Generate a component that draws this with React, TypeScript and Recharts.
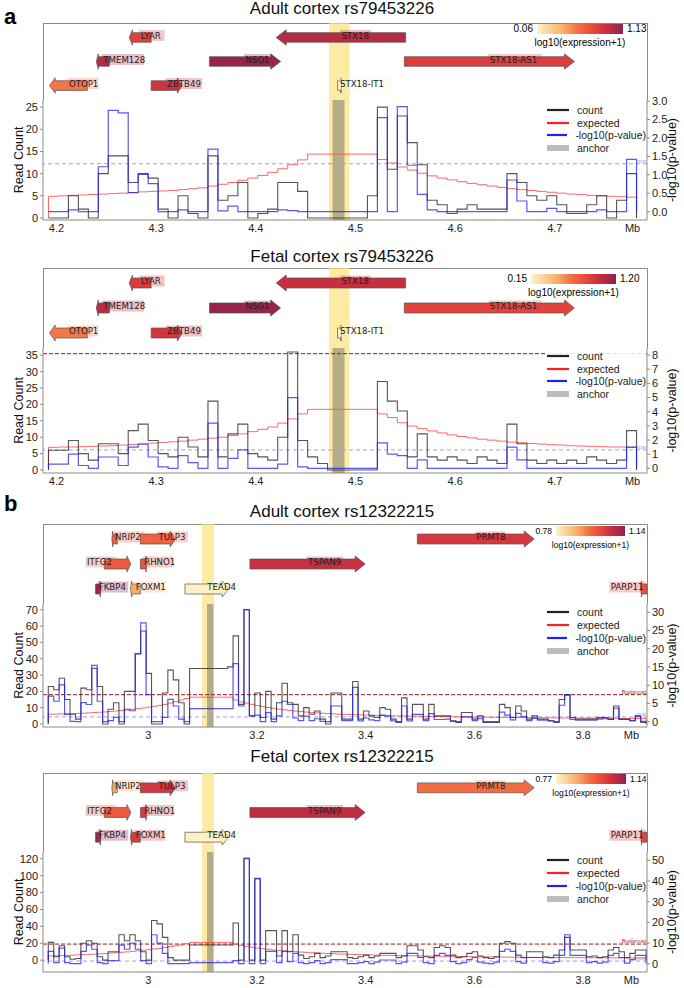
import { ComposedChart, Line, XAxis, YAxis, ReferenceArea, ReferenceLine, Legend } from 'recharts'

const SANS = '"Liberation Sans", Arial, Helvetica, sans-serif'
const DEJAVU = '"DejaVu Sans", sans-serif'

// expression colour scale (pale yellow -> orange -> red -> maroon)
const CMAP_STOPS = [0, 0.3, 0.48, 0.65, 0.8, 0.92, 1]
const CMAP_COLORS = ['#fdf4c8', '#f8af69', '#f36d43', '#e8473c', '#c8303f', '#a8264a', '#8c234e']

// ---- locus rs79453226 ----
const geneNamesA = ['LYAR', 'STX18', 'TMEM128', 'NSG1', 'STX18-AS1', 'OTOP1', 'ZBTB49', 'STX18-IT1']
const geneStartA = [4.273, 4.4205, 4.24, 4.3536, 4.549, 4.193, 4.295, 4.482]
const geneEndA = [4.295, 4.5503, 4.253, 4.4249, 4.7197, 4.231, 4.326, 4.486]
const geneRowA = [0, 0, 1, 1, 1, 2, 2, 2]
const geneStrandA = [-1, -1, -1, 1, 1, -1, 1, 1]
const labelModeA = [1, 1, 1, 1, 1, 1, 1, 1]
const exprAdultA = [0.8, 0.98, 0.98, 1.1, 0.82, 0.55, 0.88, 0.08]
const exprFetalA = [0.91, 0.99, 1.04, 1.17, 0.86, 0.62, 0.94, 0.17]

const adultACount = [
  0, 0, 5, 2, 0, 10, 14, 14, 8, 10, 9, 2, 0, 5, 1, 0, 14, 4, 5, 8,
  0, 1, 2, 8, 8, 6, 0, 0, 0, 0, 0, 0, 5, 25, 11, 23, 17, 12, 4, 3,
  1, 2, 3, 2, 2, 2, 10, 8, 5, 4, 5, 3, 1, 1, 3, 5, 0, 4, 10,
]
const adultAExpected = [
  4.9, 5.0, 5.1, 5.2, 5.3, 5.4, 5.5, 5.6, 5.75, 5.9, 6.0, 6.1, 6.2, 6.4, 6.6, 6.8, 7.2, 7.6, 8.0, 8.5,
  9.0, 9.6, 10.3, 11.1, 12.0, 13.1, 14.4, 14.4, 14.4, 14.4, 14.4, 14.4, 14.4, 13.2, 12.4, 11.5, 10.8, 10.1, 9.5, 9.0,
  8.6, 8.2, 7.8, 7.5, 7.2, 6.9, 6.6, 6.4, 6.2, 6.0, 5.8, 5.6, 5.4, 5.3, 5.1, 5.0, 4.9, 4.8, 4.7,
]
const adultAPval = [
  0, 0, 0.05, 0, 0, 1.22, 2.75, 2.68, 0.52, 1.01, 0.76, 0, 0, 0.05, 0, 0, 1.7, 0.02, 0.15, 0,
  0, 0, 0, 0.05, 0.03, 0, 0, 0, 0, 0, 0, 0, 0, 2.55, 0, 2.85, 1.26, 0.47, 0.05, 0,
  0, 0, 0, 0, 0, 0, 0.86, 0.29, 0, 0, 0.09, 0, 0, 0, 0, 0.05, 0, 0, 1.42,
]

const fetalACount = [
  6, 6, 9, 5, 3, 8, 8, 5, 12, 14, 9, 5, 4, 10, 7, 4, 21, 4, 11, 14,
  5, 4, 3, 10, 36, 9, 4, 2, 0, 0, 0, 0, 0, 27, 21, 18, 4, 11, 4, 3,
  4, 3, 2, 4, 3, 2, 14, 8, 3, 2, 3, 2, 3, 2, 4, 3, 2, 3, 12,
]
const fetalAExpected = [
  6.9, 7.0, 7.0, 7.1, 7.2, 7.3, 7.4, 7.6, 7.8, 8.0, 8.2, 8.4, 8.6, 8.8, 9.1, 9.4, 9.7, 10.0, 10.5, 11.0,
  11.7, 12.4, 13.1, 14.3, 15.6, 17.1, 18.5, 18.5, 18.5, 18.5, 18.5, 18.5, 18.5, 17.1, 16.0, 14.4, 13.4, 12.6, 11.9, 11.3,
  10.7, 10.2, 9.8, 9.4, 9.1, 8.8, 8.5, 8.3, 8.1, 7.9, 7.7, 7.6, 7.4, 7.3, 7.2, 7.1, 7.0, 7.0, 6.9,
]
const fetalAPval = [
  0.3, 0.3, 1.0, 0.2, 0, 0.8, 0.8, 0.2, 1.5, 1.7, 0.8, 0.1, 0, 0.9, 0.4, 0, 3.2, 0, 0.7, 1.3,
  0, 0, 0, 0.3, 5.0, 0.1, 0, 0, 0, 0, 0, 0, 0, 1.8, 1.0, 0.9, 0, 0.6, 0, 0,
  0, 0, 0, 0, 0, 0, 1.5, 0.6, 0, 0, 0, 0, 0, 0, 0, 0, 0, 0, 1.5,
]

// ---- locus rs12322215 ----
const geneNamesB = ['NRIP2', 'TULP3', 'PRMT8', 'ITFG2', 'RHNO1', 'TSPAN9', 'FKBP4', 'FOXM1', 'TEAD4', 'PARP11']
const geneStartB = [2.933, 2.9855, 3.495, 2.919, 2.9855, 3.187, 2.903, 2.967, 3.0675, 3.906]
const geneEndB = [2.943, 3.05, 3.71, 2.968, 2.9976, 3.399, 2.913, 2.9855, 3.148, 3.9175]
const geneRowB = [0, 0, 0, 1, 1, 1, 2, 2, 2, 2]
const geneStrandB = [-1, 1, 1, 1, 1, 1, 1, -1, 1, -1]
const labelModeB = [1, 1, 1, -1, 1, 1, 1, 1, 1, -2]
const exprAdultB = [0.98, 0.97, 1.05, 0.985, 0.995, 1.07, 1.12, 0.89, 0.785, 1.0]
const exprFetalB = [0.89, 1.05, 0.95, 0.98, 1.04, 1.08, 1.12, 1.04, 0.775, 1.02]

const adultBCount = [
  23, 21, 28, 15, 6, 3, 22, 21, 36, 23, 0, 9, 13, 0, 20, 20, 43, 57, 31, 0,
  0, 19, 33, 27, 13, 0, 34, 34, 34, 34, 34, 34, 34, 35, 54, 12, 70, 5, 19, 4,
  20, 3, 13, 25, 13, 12, 5, 10, 6, 8, 3, 0, 19, 19, 3, 3, 26, 3, 8, 5,
  4, 10, 9, 3, 1, 16, 3, 12, 12, 3, 12, 5, 5, 5, 2, 1, 7, 7, 3, 5,
  1, 1, 1, 12, 10, 4, 11, 8, 3, 5, 3, 3, 2, 1, 15, 18, 4, 3, 3, 3,
  3, 4, 4, 3, 11, 3, 3, 2, 5, 1,
]
const adultBExpected = [
  6.0, 6.1, 6.2, 6.3, 6.4, 6.5, 6.6, 6.8, 7.0, 7.2, 7.4, 7.7, 8.0, 8.3, 8.6, 9.0, 9.4, 9.8, 10.3, 10.8,
  11.4, 12.0, 12.8, 13.7, 14.7, 15.6, 16.4, 16.4, 16.4, 16.4, 16.4, 16.4, 16.4, 16.4, 14.7, 13.6, 12.8, 12.0, 11.3, 10.7,
  10.1, 9.6, 9.1, 8.7, 8.3, 7.9, 7.6, 7.3, 7.0, 6.8, 6.6, 6.4, 6.2, 6.0, 5.9, 5.8, 5.7, 5.6, 5.5, 5.4,
  5.3, 5.2, 5.1, 5.0, 4.95, 4.9, 4.85, 4.8, 4.75, 4.7, 4.65, 4.6, 4.55, 4.5, 4.45, 4.4, 4.35, 4.3, 4.25, 4.2,
  4.2, 4.15, 4.1, 4.1, 4.05, 4.0, 4.0, 3.95, 3.9, 3.9, 3.85, 3.8, 3.8, 3.75, 3.7, 3.7, 3.7, 3.65, 3.6, 3.6,
  3.6, 3.55, 3.5, 3.5, 3.5, 3.45, 3.4, 3.4, 3.4, 3.35,
]
const adultBPval = [
  7.0, 5.6, 10.1, 2.0, 0.1, 0, 5.2, 4.7, 14.6, 5.6, 0, 0.3, 1.2, 0, 3.4, 3.0, 18.6, 27.1, 7.4, 0,
  0, 1.2, 6.1, 4.3, 0.7, 0, 3.6, 3.6, 3.6, 3.6, 3.6, 3.6, 3.6, 3.6, 15.9, 4.3, 30.7, 1.6, 1.8, 0,
  2.5, 0, 1.6, 5.6, 4.7, 1.0, 0.3, 1.5, 0.3, 0.8, 0.1, 0, 4.3, 4.3, 0.3, 0.3, 9.4, 0.2, 1.0, 0.5,
  0.3, 1.8, 1.5, 0.2, 0, 4.3, 0.2, 2.0, 2.0, 0.3, 2.2, 0.6, 0.6, 0.7, 0.1, 0, 1.3, 1.3, 0.3, 0.8,
  0, 0, 0, 2.6, 1.8, 0.5, 2.3, 1.4, 0.3, 0.9, 0.4, 0.4, 0.2, 0, 4.5, 7.3, 0.6, 0.4, 0.4, 0.4,
  0.4, 0.7, 0.8, 0.6, 3.7, 0.6, 0.6, 0.3, 1.5, 0.1,
]

const fetalBCount = [
  21, 4, 17, 4, 1, 2, 20, 23, 20, 4, 0, 10, 10, 30, 23, 30, 23, 10, 0, 47,
  43, 27, 3, 0, 0, 0, 18, 18, 18, 18, 18, 18, 18, 18, 44, 0, 120, 0, 97, 0,
  35, 35, 5, 35, 10, 30, 6, 2, 4, 8, 3, 5, 10, 10, 10, 3, 2, 4, 6, 3,
  5, 8, 8, 8, 3, 5, 17, 17, 12, 4, 3, 15, 17, 15, 6, 3, 4, 8, 10, 5,
  3, 2, 4, 20, 22, 20, 6, 3, 10, 10, 10, 4, 3, 6, 12, 27, 12, 12, 12, 4,
  5, 3, 4, 12, 15, 10, 3, 8, 12, 12,
]
const fetalBExpected = [
  5, 5.2, 5.4, 5.6, 5.9, 6.2, 6.5, 6.8, 7.1, 7.5, 7.9, 8.3, 8.8, 9.3, 9.8, 10.4, 11, 11.7, 12.4, 13.2,
  14, 15, 16, 17, 18, 19.5, 21, 21, 21, 21, 21, 21, 21, 21, 19, 17.5, 16.3, 15.2, 14.3, 13.5,
  12.8, 12.1, 11.5, 11, 10.5, 10, 9.6, 9.2, 8.8, 8.5, 8.2, 7.9, 7.6, 7.3, 7.1, 6.9, 6.7, 6.5, 6.3, 6.1,
  6, 5.8, 5.7, 5.5, 5.4, 5.3, 5.2, 5.1, 5, 4.9, 4.8, 4.7, 4.6, 4.5, 4.4, 4.3, 4.2, 4.1, 4, 3.9,
  3.9, 3.8, 3.7, 3.7, 3.6, 3.5, 3.5, 3.4, 3.4, 3.3, 3.3, 3.2, 3.2, 3.1, 3.1, 3, 3, 3, 2.9, 2.9,
  2.9, 2.8, 2.8, 2.8, 2.7, 2.7, 2.7, 2.6, 2.6, 2.6,
]
const fetalBPval = [
  6, 0.5, 7.5, 0.5, 0, 0, 6, 9, 7, 0.5, 0, 1.5, 1.5, 9, 7, 10, 7, 1.5, 0, 14,
  10, 5, 0, 0, 0, 0, 0.5, 0.5, 0.5, 0.5, 0.5, 0.5, 0.5, 0.5, 1.5, 0, 51, 0, 41, 0,
  6, 6, 0.5, 6, 1, 5, 0.5, 0, 0.5, 1.5, 0, 0.5, 2, 2, 2, 0, 0, 0.5, 1, 0,
  0.8, 1.8, 1.8, 1.8, 0, 0.8, 5, 5, 3, 0.5, 0, 4, 5, 4, 1, 0, 0.5, 2, 3, 0.8,
  0.3, 0, 0.8, 6, 7, 6, 1, 0.3, 3, 3, 3, 0.5, 0.3, 1, 4, 14, 4, 4, 4, 0.5,
  1, 0.3, 0.8, 4, 5, 3, 0.3, 2, 4, 4,
]

const ticksA = [4.2, 4.3, 4.4, 4.5, 4.6, 4.7, 4.778]
const ticksB = [3, 3.2, 3.4, 3.6, 3.8, 3.889]

const TOP_PAD = 8

function hexToRgb(h: string) {
  const n = parseInt(h.slice(1), 16)
  return [(n >> 16) & 255, (n >> 8) & 255, n & 255]
}

function cmap(t: number) {
  const v = Math.max(0, Math.min(1, t))
  let i = 0
  while (i < CMAP_STOPS.length - 2 && v > CMAP_STOPS[i + 1]) i++
  const f = (v - CMAP_STOPS[i]) / (CMAP_STOPS[i + 1] - CMAP_STOPS[i])
  const a = hexToRgb(CMAP_COLORS[i])
  const b = hexToRgb(CMAP_COLORS[i + 1])
  const c = a.map((x, k) => Math.round(x + (b[k] - x) * f))
  return `rgb(${c[0]},${c[1]},${c[2]})`
}

const gradient = `linear-gradient(to right, ${CMAP_STOPS.map((s, i) => `${CMAP_COLORS[i]} ${s * 100}%`).join(', ')})`

type Gene = { name: string; start: number; end: number; row: number; strand: number; mode: number; color: string }

function makeGenes(names: string[], starts: number[], ends: number[], rows: number[], strands: number[], modes: number[], expr: number[], range: number[]): Gene[] {
  return names.map((name, i) => ({
    name,
    start: starts[i],
    end: ends[i],
    row: rows[i],
    strand: strands[i],
    mode: modes[i],
    color: cmap((expr[i] - range[0]) / (range[1] - range[0])),
  }))
}

function geneShape(g: Gene) {
  return (props: any) => {
    const { x, y, width, height } = props
    const cy = y + height / 2
    const h = height / 2
    const H = h * 1.6
    const L = Math.min(10, width * 0.15)
    const x0 = x
    const x1 = x + width
    const pts =
      g.strand > 0
        ? [[x0, cy - h], [x1 - L, cy - h], [x1 - L, cy - H], [x1, cy], [x1 - L, cy + H], [x1 - L, cy + h], [x0, cy + h]]
        : [[x1, cy - h], [x0 + L, cy - h], [x0 + L, cy - H], [x0, cy], [x0 + L, cy + H], [x0 + L, cy + h], [x1, cy + h]]
    const tw = g.name.length * 5.6 + 3
    let lx = x + width / 2
    if (g.mode === -1) lx -= tw
    if (g.mode === -2) lx = x1 - tw
    return (
      <g>
        <polygon points={pts.map((p) => p.join(',')).join(' ')} fill={g.color} stroke="#555" strokeWidth={0.7} />
        <rect x={lx - 1} y={cy - 7.5} width={tw} height={11} fill={g.color} fillOpacity={0.3} />
        <text x={lx + 0.5} y={cy + 1.2} fontSize={8.6} fontFamily={DEJAVU} fill="#222">
          {g.name}
        </text>
      </g>
    )
  }
}

function axisTitle(text: string, side: 'left' | 'right') {
  return (props: any) => {
    const vb = props.viewBox || {}
    const x = side === 'left' ? vb.x + 19 : vb.x + vb.width - 12
    const y = vb.y + vb.height / 2
    return (
      <text x={x} y={y} transform={`rotate(-90 ${x} ${y})`} textAnchor="middle" dominantBaseline="central" fontSize={12.5} fill="#111" fontFamily={SANS}>
        {text}
      </text>
    )
  }
}

const legendItems = [
  { label: 'count', color: '#222', w: 2.2 },
  { label: 'expected', color: '#ff2020', w: 2.2 },
  { label: '-log10(p-value)', color: '#2020ff', w: 2.2 },
  { label: 'anchor', color: '#bdbdbd', w: 6 },
]

function LegendBox() {
  return (
    <div style={{ background: 'rgba(255,255,255,0.85)', fontFamily: SANS, fontSize: 10.5, color: '#222', paddingLeft: 2, paddingTop: 4 }}>
      {legendItems.map((it) => (
        <div key={it.label} style={{ height: 12.7, display: 'flex', alignItems: 'center' }}>
          <svg width={22} height={8} style={{ display: 'block' }}>
            <line x1={0} x2={22} y1={4} y2={4} stroke={it.color} strokeWidth={it.w} />
          </svg>
          <span style={{ marginLeft: 8, whiteSpace: 'nowrap' }}>{it.label}</span>
        </div>
      ))}
    </div>
  )
}

type PanelProps = {
  title: string
  titleY: number
  boxTop: number
  chartTop: number
  chartBottom: number
  domain: [number, number]
  ticks: number[]
  genes: Gene[]
  range: number[]
  cbarLeft: number
  cbarWidth: number
  cbarTop: number
  cbarFont: number
  band: [number, number]
  anchor: [number, number]
  binStart: number
  binWidth: number
  count: number[]
  expected: number[]
  pval: number[]
  leftDomain: [number, number]
  leftTicks: number[]
  rightDomain: [number, number]
  rightTicks: number[]
  rightDecimals: number
  fdr: number
  bonf?: number
  bonfLabel?: boolean
  legendY: number
}

function Panel(p: PanelProps) {
  const rows: { x: number; count: number; expected: number; pval: number }[] = [
    { x: p.binStart, count: 0, expected: 0, pval: 0 },
  ]
  p.count.forEach((c, i) => {
    rows.push({ x: p.binStart + i * p.binWidth, count: c, expected: p.expected[i] ?? 0, pval: p.pval[i] ?? 0 })
  })
  rows.push({ x: p.binStart + p.count.length * p.binWidth, count: 0, expected: 0, pval: 0 })

  const geneH = p.chartTop - p.boxTop
  const chartH = p.chartBottom - p.chartTop
  const mbTick = p.ticks[p.ticks.length - 1]
  const tickFmt = (v: number) => (v === mbTick ? 'Mb' : Number.isInteger(v) ? String(v) : v.toFixed(1))
  const axisStyle = { fontSize: 11, fill: '#222', fontFamily: SANS }
  const geneData = p.genes.map((g) => ({ x: g.start, row: g.row }))

  return (
    <>
      <div style={{ position: 'absolute', left: 0, top: p.titleY - 11, width: 684, height: 22, lineHeight: '22px', textAlign: 'center', fontSize: 17, fontFamily: SANS, color: '#111' }}>
        {p.title}
      </div>
      <div style={{ position: 'absolute', left: 43, top: p.boxTop, width: 603, height: geneH - 1, border: '1px solid #8a8a8a', borderBottom: 'none' }} />
      <div style={{ position: 'absolute', left: 0, top: p.boxTop }}>
        <ComposedChart width={684} height={geneH} data={geneData} margin={{ top: 0, right: 37, bottom: 0, left: 43 }}>
          <XAxis dataKey="x" type="number" domain={p.domain} allowDataOverflow hide />
          <YAxis type="number" domain={[-0.6, 2.6]} reversed allowDataOverflow hide />
          <Line dataKey="row" stroke="none" dot={false} isAnimationActive={false} legendType="none" />
          <ReferenceArea x1={p.band[0]} x2={p.band[1]} fill="#fbe27a" fillOpacity={0.7} stroke="none" ifOverflow="visible" />
          {p.genes.map((g) => (
            <ReferenceArea key={g.name} x1={g.start} x2={g.end} y1={g.row - 0.2} y2={g.row + 0.2} ifOverflow="visible" shape={geneShape(g)} />
          ))}
        </ComposedChart>
      </div>
      <div style={{ position: 'absolute', left: p.cbarLeft, top: p.cbarTop, width: p.cbarWidth, height: 10, background: gradient }} />
      <div style={{ position: 'absolute', left: p.cbarLeft - 44, top: p.cbarTop - 1, width: 40, textAlign: 'right', fontSize: p.cbarFont, fontFamily: SANS, lineHeight: '12px' }}>
        {p.range[0].toFixed(2)}
      </div>
      <div style={{ position: 'absolute', left: p.cbarLeft + p.cbarWidth + 4, top: p.cbarTop - 1, fontSize: p.cbarFont, fontFamily: SANS, lineHeight: '12px' }}>
        {p.range[1].toFixed(2)}
      </div>
      <div style={{ position: 'absolute', left: p.cbarLeft - 20, top: p.cbarTop + 13, width: p.cbarWidth + 40, textAlign: 'center', fontSize: p.cbarFont, fontFamily: SANS, lineHeight: '12px' }}>
        log10(expression+1)
      </div>
      <div style={{ position: 'absolute', left: 0, top: p.chartTop - TOP_PAD }}>
        <ComposedChart width={684} height={chartH + 22 + TOP_PAD} data={rows} margin={{ top: TOP_PAD, right: 0, bottom: 0, left: 0 }}>
          <XAxis
            dataKey="x"
            type="number"
            domain={p.domain}
            allowDataOverflow
            ticks={p.ticks}
            interval={0}
            tickFormatter={tickFmt}
            tickLine={false}
            tickSize={3}
            tickMargin={1}
            axisLine={{ stroke: '#8a8a8a' }}
            tick={axisStyle}
            height={22}
          />
          <YAxis
            yAxisId="left"
            type="number"
            width={43}
            domain={p.leftDomain}
            allowDataOverflow
            ticks={p.leftTicks}
            interval={0}
            tickSize={3}
            tickMargin={2}
            axisLine={{ stroke: '#8a8a8a' }}
            tickLine={{ stroke: '#8a8a8a' }}
            tick={axisStyle}
            label={axisTitle('Read Count', 'left')}
          />
          <YAxis
            yAxisId="right"
            orientation="right"
            type="number"
            width={37}
            domain={p.rightDomain}
            allowDataOverflow
            ticks={p.rightTicks}
            interval={0}
            tickSize={3}
            tickMargin={2}
            tickFormatter={(v: number) => v.toFixed(p.rightDecimals)}
            axisLine={{ stroke: '#8a8a8a' }}
            tickLine={{ stroke: '#8a8a8a' }}
            tick={axisStyle}
            label={axisTitle('-log10(p-value)', 'right')}
          />
          <ReferenceArea yAxisId="left" x1={p.band[0]} x2={p.band[1]} fill="#fbe27a" fillOpacity={0.7} stroke="none" ifOverflow="hidden" />
          <ReferenceArea yAxisId="left" x1={p.anchor[0]} x2={p.anchor[1]} fill="#7a7a72" fillOpacity={0.55} stroke="none" ifOverflow="hidden" />
          <ReferenceLine
            yAxisId="right"
            y={p.fdr}
            stroke="#a899ee"
            strokeDasharray="4 3"
            label={{ value: 'FDR', position: 'insideBottomRight', offset: 1, fontSize: 5, fill: '#9a8ae0' }}
          />
          {p.bonf !== undefined && (
            <ReferenceLine
              yAxisId="right"
              y={p.bonf}
              stroke="#a01515"
              strokeDasharray="4 2"
              label={p.bonfLabel ? { value: 'Bonferroni', position: 'insideBottomRight', offset: 1, fontSize: 5.5, fill: '#a01515' } : undefined}
            />
          )}
          <Line yAxisId="left" type="stepAfter" dataKey="expected" stroke="#ff4d4d" strokeOpacity={0.85} strokeWidth={1} dot={false} isAnimationActive={false} />
          <Line yAxisId="left" type="stepAfter" dataKey="count" stroke="#2a2a2a" strokeOpacity={0.8} strokeWidth={1.1} dot={false} isAnimationActive={false} />
          <Line yAxisId="right" type="stepAfter" dataKey="pval" stroke="#2222ee" strokeOpacity={0.75} strokeWidth={1.2} dot={false} isAnimationActive={false} />
          <Legend
            layout="vertical"
            align="center"
            verticalAlign="middle"
            content={() => <LegendBox />}
            wrapperStyle={{ left: 545, top: p.legendY + TOP_PAD - 6.35 - 4, width: 101, height: 55 }}
          />
        </ComposedChart>
      </div>
    </>
  )
}

const genesAdultA = makeGenes(geneNamesA, geneStartA, geneEndA, geneRowA, geneStrandA, labelModeA, exprAdultA, [0.06, 1.13])
const genesFetalA = makeGenes(geneNamesA, geneStartA, geneEndA, geneRowA, geneStrandA, labelModeA, exprFetalA, [0.15, 1.2])
const genesAdultB = makeGenes(geneNamesB, geneStartB, geneEndB, geneRowB, geneStrandB, labelModeB, exprAdultB, [0.78, 1.14])
const genesFetalB = makeGenes(geneNamesB, geneStartB, geneEndB, geneRowB, geneStrandB, labelModeB, exprFetalB, [0.77, 1.14])

export default function App() {
  return (
    <div style={{ position: 'absolute', left: 0, top: 0, width: 684, height: 988, background: '#fff', overflow: 'hidden' }}>
      <div style={{ position: 'absolute', left: 4, top: 4, fontSize: 22, fontWeight: 'bold', fontFamily: SANS }}>a</div>
      <div style={{ position: 'absolute', left: 4, top: 491, fontSize: 22, fontWeight: 'bold', fontFamily: SANS }}>b</div>
      <Panel
        title="Adult cortex rs79453226"
        titleY={9}
        boxTop={23}
        chartTop={100}
        chartBottom={220}
        domain={[4.1865, 4.7925]}
        ticks={ticksA}
        genes={genesAdultA}
        range={[0.06, 1.13]}
        cbarLeft={537}
        cbarWidth={86}
        cbarTop={24}
        cbarFont={10}
        band={[4.4735, 4.494]}
        anchor={[4.477, 4.489]}
        binStart={4.192}
        binWidth={0.01}
        count={adultACount}
        expected={adultAExpected}
        pval={adultAPval}
        leftDomain={[-0.45, 26.6]}
        leftTicks={[0, 5, 10, 15, 20, 25]}
        rightDomain={[-0.225, 3.03]}
        rightTicks={[0, 0.5, 1, 1.5, 2, 2.5, 3]}
        rightDecimals={1}
        fdr={1.3}
        legendY={10}
      />
      <Panel
        title="Fetal cortex rs79453226"
        titleY={257}
        boxTop={268}
        chartTop={348}
        chartBottom={473}
        domain={[4.1865, 4.7925]}
        ticks={ticksA}
        genes={genesFetalA}
        range={[0.15, 1.2]}
        cbarLeft={531}
        cbarWidth={85}
        cbarTop={274}
        cbarFont={10}
        band={[4.4735, 4.494]}
        anchor={[4.477, 4.489]}
        binStart={4.192}
        binWidth={0.01}
        count={fetalACount}
        expected={fetalAExpected}
        pval={fetalAPval}
        leftDomain={[-0.92, 37.2]}
        leftTicks={[0, 5, 10, 15, 20, 25, 30, 35]}
        rightDomain={[-0.33, 8.5]}
        rightTicks={[0, 1, 2, 3, 4, 5, 6, 7, 8]}
        rightDecimals={0}
        fdr={1.3}
        bonf={8.1}
        legendY={8}
      />
      <Panel
        title="Adult cortex rs12322215"
        titleY={512}
        boxTop={524}
        chartTop={604}
        chartBottom={727}
        domain={[2.8063, 3.9176]}
        ticks={ticksB}
        genes={genesAdultB}
        range={[0.78, 1.14]}
        cbarLeft={556}
        cbarWidth={69}
        cbarTop={526}
        cbarFont={8.5}
        band={[3.099, 3.121]}
        anchor={[3.108, 3.12]}
        binStart={2.816}
        binWidth={0.01}
        count={adultBCount}
        expected={adultBExpected}
        pval={adultBPval}
        leftDomain={[-1.84, 73.5]}
        leftTicks={[0, 10, 20, 30, 40, 50, 60, 70]}
        rightDomain={[-1.46, 32.25]}
        rightTicks={[0, 5, 10, 15, 20, 25, 30]}
        rightDecimals={0}
        fdr={1.3}
        bonf={7.4}
        bonfLabel
        legendY={8.5}
      />
      <Panel
        title="Fetal cortex rs12322215"
        titleY={757}
        boxTop={773}
        chartTop={852}
        chartBottom={972}
        domain={[2.8063, 3.9176]}
        ticks={ticksB}
        genes={genesFetalB}
        range={[0.77, 1.14]}
        cbarLeft={556}
        cbarWidth={70}
        cbarTop={774}
        cbarFont={8.5}
        band={[3.099, 3.121]}
        anchor={[3.108, 3.12]}
        binStart={2.816}
        binWidth={0.01}
        count={fetalBCount}
        expected={fetalBExpected}
        pval={fetalBPval}
        leftDomain={[-14, 128]}
        leftTicks={[0, 20, 40, 60, 80, 100, 120]}
        rightDomain={[-4, 54]}
        rightTicks={[0, 10, 20, 30, 40, 50]}
        rightDecimals={0}
        fdr={1.3}
        bonf={9.5}
        bonfLabel
        legendY={8.5}
      />
    </div>
  )
}
